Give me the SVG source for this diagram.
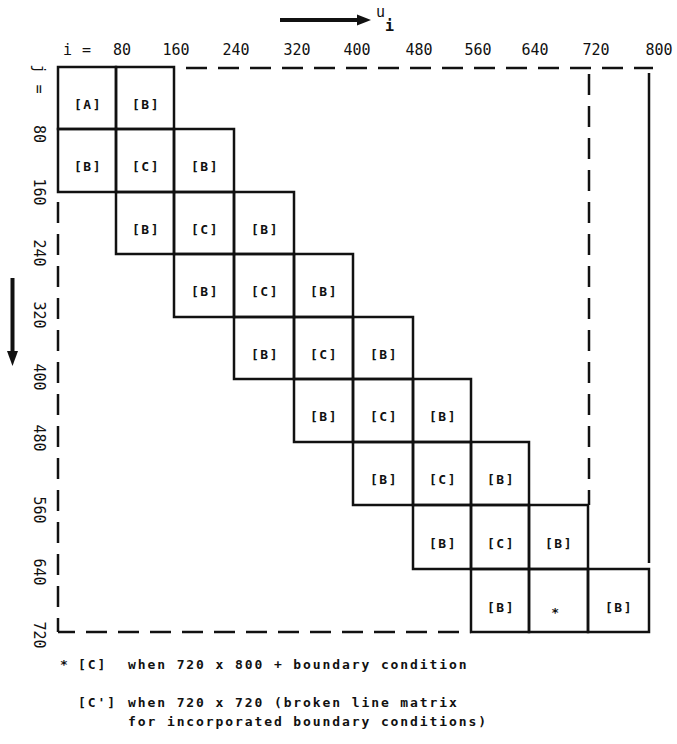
<svg xmlns="http://www.w3.org/2000/svg" width="677" height="744" viewBox="0 0 677 744">
<style>
  .cell { fill: none; stroke: #111; stroke-width: 2.5; }
  .lbl { font-family: "DejaVu Sans Mono", "Liberation Mono", monospace; font-weight: bold; font-size: 13px; fill: #111; text-anchor: middle; letter-spacing: 1.5px; }
  .ax { font-family: "DejaVu Sans Mono", "Liberation Mono", monospace; font-size: 15px; fill: #111; }
  .leg { font-family: "DejaVu Sans Mono", "Liberation Mono", monospace; font-weight: bold; font-size: 13px; fill: #111; letter-spacing: 1.9px; }
  .dash { fill: none; stroke: #111; stroke-width: 2.5; stroke-dasharray: 21 11; }
  .solid { fill: none; stroke: #111; stroke-width: 2.5; }
  .arr { stroke: #111; stroke-width: 4; fill: none; }
  .head { fill: #111; }
</style>
<rect width="677" height="744" fill="#fff"/>

<!-- boundary lines -->
<g id="boundary">
  <line class="dash" x1="186" y1="68" x2="653" y2="68"/>
  <line class="dash" x1="589" y1="74" x2="589" y2="505"/>
  <line class="dash" x1="58" y1="202" x2="58" y2="632"/>
  <line class="dash" x1="58" y1="632" x2="471" y2="632" stroke-dashoffset="4"/>
  <line class="solid" x1="649" y1="73" x2="649" y2="563"/>
</g>

<!-- row 0 -->
<g id="r0c0"><rect class="cell" x="58" y="67" width="58" height="62"/><text class="lbl" x="88" y="109">[A]</text></g>
<g id="r0c1"><rect class="cell" x="116" y="67" width="58" height="62"/><text class="lbl" x="146" y="109">[B]</text></g>
<!-- row 1 -->
<g id="r1c0"><rect class="cell" x="58" y="129" width="58" height="63"/><text class="lbl" x="88" y="171">[B]</text></g>
<g id="r1c1"><rect class="cell" x="116" y="129" width="58" height="63"/><text class="lbl" x="146" y="171">[C]</text></g>
<g id="r1c2"><rect class="cell" x="174" y="129" width="60" height="63"/><text class="lbl" x="205" y="171">[B]</text></g>
<!-- row 2 -->
<g id="r2c1"><rect class="cell" x="116" y="192" width="58" height="62"/><text class="lbl" x="146" y="234">[B]</text></g>
<g id="r2c2"><rect class="cell" x="174" y="192" width="60" height="62"/><text class="lbl" x="205" y="234">[C]</text></g>
<g id="r2c3"><rect class="cell" x="234" y="192" width="60" height="62"/><text class="lbl" x="265" y="234">[B]</text></g>
<!-- row 3 -->
<g id="r3c2"><rect class="cell" x="174" y="254" width="60" height="63"/><text class="lbl" x="205" y="296">[B]</text></g>
<g id="r3c3"><rect class="cell" x="234" y="254" width="60" height="63"/><text class="lbl" x="265" y="296">[C]</text></g>
<g id="r3c4"><rect class="cell" x="294" y="254" width="59" height="63"/><text class="lbl" x="324" y="296">[B]</text></g>
<!-- row 4 -->
<g id="r4c3"><rect class="cell" x="234" y="317" width="60" height="62"/><text class="lbl" x="265" y="359">[B]</text></g>
<g id="r4c4"><rect class="cell" x="294" y="317" width="59" height="62"/><text class="lbl" x="324" y="359">[C]</text></g>
<g id="r4c5"><rect class="cell" x="353" y="317" width="60" height="62"/><text class="lbl" x="384" y="359">[B]</text></g>
<!-- row 5 -->
<g id="r5c4"><rect class="cell" x="294" y="379" width="59" height="63"/><text class="lbl" x="324" y="421">[B]</text></g>
<g id="r5c5"><rect class="cell" x="353" y="379" width="60" height="63"/><text class="lbl" x="384" y="421">[C]</text></g>
<g id="r5c6"><rect class="cell" x="413" y="379" width="58" height="63"/><text class="lbl" x="443" y="421">[B]</text></g>
<!-- row 6 -->
<g id="r6c5"><rect class="cell" x="353" y="442" width="60" height="63"/><text class="lbl" x="384" y="484">[B]</text></g>
<g id="r6c6"><rect class="cell" x="413" y="442" width="58" height="63"/><text class="lbl" x="443" y="484">[C]</text></g>
<g id="r6c7"><rect class="cell" x="471" y="442" width="58" height="63"/><text class="lbl" x="501" y="484">[B]</text></g>
<!-- row 7 -->
<g id="r7c6"><rect class="cell" x="413" y="505" width="58" height="64"/><text class="lbl" x="443" y="548">[B]</text></g>
<g id="r7c7"><rect class="cell" x="471" y="505" width="58" height="64"/><text class="lbl" x="501" y="548">[C]</text></g>
<g id="r7c8"><rect class="cell" x="529" y="505" width="59" height="64"/><text class="lbl" x="559" y="548">[B]</text></g>
<!-- row 8 -->
<g id="r8c7"><rect class="cell" x="471" y="569" width="58" height="63"/><text class="lbl" x="501" y="612">[B]</text></g>
<g id="r8c8"><rect class="cell" x="529" y="569" width="59" height="63"/><text class="lbl" x="556" y="617" font-size="17">*</text></g>
<g id="r8c9"><rect class="cell" x="588" y="569" width="61" height="63"/><text class="lbl" x="619" y="612">[B]</text></g>

<!-- axis arrows -->
<g id="connectors">
  <line class="arr" x1="280" y1="20" x2="360" y2="20"/>
  <polygon class="head" points="357,14.5 371,20 357,25.5"/>
  <line class="arr" x1="12.5" y1="278" x2="12.5" y2="354"/>
  <polygon class="head" points="7,351 12.5,366 18,351"/>
</g>

<!-- axis labels -->
<g id="col-labels">
  <text class="ax" x="376" y="17" font-size="12">u</text>
  <text class="ax" x="385" y="31" font-size="12" font-weight="bold">i</text>
  <text class="ax" x="63" y="55">i</text>
  <text class="ax" x="82" y="55">=</text>
  <text class="ax" x="122" y="55" text-anchor="middle">80</text>
  <text class="ax" x="176" y="55" text-anchor="middle">160</text>
  <text class="ax" x="236" y="55" text-anchor="middle">240</text>
  <text class="ax" x="297" y="55" text-anchor="middle">320</text>
  <text class="ax" x="357" y="55" text-anchor="middle">400</text>
  <text class="ax" x="419" y="55" text-anchor="middle">480</text>
  <text class="ax" x="478" y="55" text-anchor="middle">560</text>
  <text class="ax" x="535" y="55" text-anchor="middle">640</text>
  <text class="ax" x="596" y="55" text-anchor="middle">720</text>
  <text class="ax" x="659" y="55" text-anchor="middle">800</text>
</g>
<g id="row-labels" class="ax" text-anchor="middle">
  <text transform="translate(34,69) rotate(90)">j</text>
  <text transform="translate(34,89) rotate(90)">=</text>
  <text transform="translate(34,134) rotate(90)">80</text>
  <text transform="translate(34,192) rotate(90)">160</text>
  <text transform="translate(34,253) rotate(90)">240</text>
  <text transform="translate(34,315) rotate(90)">320</text>
  <text transform="translate(34,377) rotate(90)">400</text>
  <text transform="translate(34,438) rotate(90)">480</text>
  <text transform="translate(34,510) rotate(90)">560</text>
  <text transform="translate(34,572) rotate(90)">640</text>
  <text transform="translate(34,635) rotate(90)">720</text>
</g>

<!-- legend -->
<g id="legend">
  <text class="leg" x="60" y="669" font-size="15">*</text>
  <text class="leg" x="78" y="669">[C]</text>
  <text class="leg" x="128" y="669">when 720 x 800 + boundary condition</text>
  <text class="leg" x="78" y="707">[C']</text>
  <text class="leg" x="128" y="707">when 720 x 720 (broken line matrix</text>
  <text class="leg" x="128" y="726">for incorporated boundary conditions)</text>
</g>
</svg>
